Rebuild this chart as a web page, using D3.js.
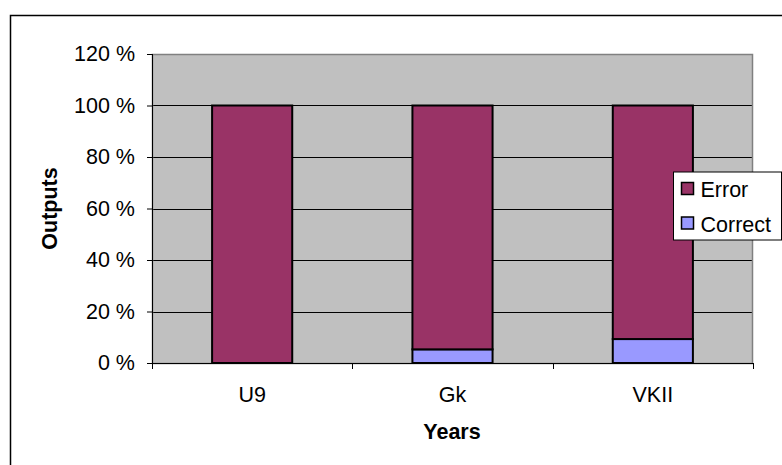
<!DOCTYPE html>
<html>
<head>
<meta charset="utf-8">
<script src="https://cdn.jsdelivr.net/npm/d3@7"></script>
<style>
  html, body { margin: 0; padding: 0; background: #fff; }
  svg { display: block; font-family: "Liberation Sans", Arial, sans-serif; }
</style>
</head>
<body>
<svg id="chart" width="782" height="465"></svg>
<script>
// Chart data
const categories = ["U9", "Gk", "VKII"];
const correctValues = [0, 5.3, 9.3];
const errorValues = [100, 94.7, 90.7];
const seriesNames = ["Error", "Correct"];
const yTicks = [0, 20, 40, 60, 80, 100, 120];

const colors = { Error: "#993366", Correct: "#9999FF" };
const FS = 21.5;

const svg = d3.select("#chart");
const W = 782, H = 465;

// Outer chart frame
svg.append("rect")
  .attr("x", 10.5).attr("y", 15.5)
  .attr("width", W + 10).attr("height", H + 10)
  .attr("fill", "#fff").attr("stroke", "#000").attr("stroke-width", 1.5);

const plot = { left: 152, right: 753, top: 54, bottom: 363 };

const x = d3.scaleBand()
  .domain(categories)
  .range([plot.left, plot.right])
  .paddingInner(0.6).paddingOuter(0.3);

const y = d3.scaleLinear().domain([0, 120]).range([plot.bottom, plot.top]);

// Plot background
svg.append("rect")
  .attr("x", plot.left).attr("y", plot.top)
  .attr("width", plot.right - plot.left).attr("height", plot.bottom - plot.top)
  .attr("fill", "#C0C0C0");

// Gridlines
svg.append("g").selectAll("line")
  .data(yTicks.filter(t => t > 0 && t < 120))
  .join("line")
  .attr("x1", plot.left).attr("x2", plot.right)
  .attr("y1", d => Math.round(y(d)) + 0.5).attr("y2", d => Math.round(y(d)) + 0.5)
  .attr("stroke", "#000").attr("stroke-width", 1);

// Plot border
svg.append("rect")
  .attr("x", plot.left + 0.5).attr("y", plot.top + 0.5)
  .attr("width", plot.right - plot.left - 1).attr("height", plot.bottom - plot.top)
  .attr("fill", "none").attr("stroke", "#808080").attr("stroke-width", 1.5);

// Stacked bars
const rows = categories.map((c, i) => ({ cat: c, Correct: correctValues[i], Error: errorValues[i] }));
const stack = d3.stack().keys(["Correct", "Error"])(rows);

svg.append("g").selectAll("g")
  .data(stack)
  .join("g")
  .attr("fill", d => colors[d.key])
  .selectAll("rect")
  .data(d => d.filter(p => p[1] - p[0] > 0))
  .join("rect")
  .attr("x", d => x(d.data.cat))
  .attr("width", x.bandwidth())
  .attr("y", d => y(d[1]))
  .attr("height", d => y(d[0]) - y(d[1]))
  .attr("stroke", "#000").attr("stroke-width", 2);

// Y axis
const yAxis = svg.append("g")
  .attr("transform", `translate(${plot.left},0)`)
  .call(d3.axisLeft(y).tickValues(yTicks).tickSize(5).tickPadding(12)
    .tickFormat(d => d + " %"));
yAxis.attr("font-size", FS).attr("font-family", "Liberation Sans, Arial, sans-serif");
yAxis.select(".domain").attr("stroke", "#000").attr("d", `M0.5,${plot.top}V${plot.bottom + 5}`);
yAxis.selectAll(".tick line").attr("stroke", "#000");
yAxis.selectAll("text").attr("fill", "#000");

// X axis
const xAxis = svg.append("g")
  .attr("transform", `translate(0,${plot.bottom})`);
xAxis.append("line")
  .attr("x1", plot.left - 5).attr("x2", plot.right)
  .attr("y1", 0.5).attr("y2", 0.5)
  .attr("stroke", "#000").attr("stroke-width", 1);
const step = (plot.right - plot.left) / categories.length;
xAxis.selectAll(".xtick")
  .data(d3.range(categories.length + 1))
  .join("line")
  .attr("x1", d => Math.round(plot.left + d * step) + 0.5)
  .attr("x2", d => Math.round(plot.left + d * step) + 0.5)
  .attr("y1", 0).attr("y2", 6)
  .attr("stroke", "#000");
xAxis.selectAll(".xlabel")
  .data(categories)
  .join("text")
  .attr("x", d => x(d) + x.bandwidth() / 2)
  .attr("y", 39)
  .attr("text-anchor", "middle")
  .attr("font-size", FS)
  .text(d => d);

// Axis titles
svg.append("text")
  .attr("x", 452).attr("y", 439)
  .attr("text-anchor", "middle")
  .attr("font-size", FS).attr("font-weight", "bold")
  .text("Years");

svg.append("text")
  .attr("transform", "translate(57,208.5) rotate(-90)")
  .attr("text-anchor", "middle")
  .attr("font-size", FS).attr("font-weight", "bold")
  .text("Outputs");

// Legend
const legend = svg.append("g").attr("transform", "translate(673.5,172)");
legend.append("rect")
  .attr("width", 108).attr("height", 68)
  .attr("fill", "#fff").attr("stroke", "#000").attr("stroke-width", 1);
seriesNames.forEach((name, i) => {
  const g = legend.append("g").attr("transform", `translate(8,${10.5 + i * 34.5})`);
  g.append("rect")
    .attr("width", 12).attr("height", 12)
    .attr("fill", colors[name]).attr("stroke", "#000").attr("stroke-width", 1.5);
  g.append("text")
    .attr("x", 19).attr("y", 14.5)
    .attr("font-size", FS)
    .text(name);
});
</script>
</body>
</html>
